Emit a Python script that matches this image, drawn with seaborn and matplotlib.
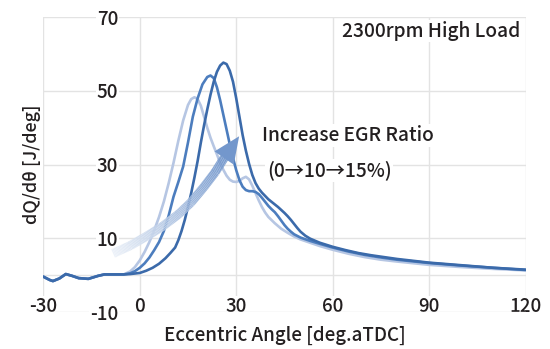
import numpy as np
import pandas as pd
import matplotlib
matplotlib.use('Agg')
import matplotlib.pyplot as plt
import seaborn as sns
from matplotlib.collections import LineCollection
from matplotlib.colors import to_rgba
from matplotlib.patches import FancyArrowPatch

# ---- data ----
# 点火前的共同部分
angle_pre = [-30, -28, -27, -25, -23, -21, -19, -16, -13, -11, -8]
dq_pre = [-0.4, -1.3, -1.6, -0.9, 0.3, -0.2, -0.8, -1.0, -0.2, 0.2, 0.2]

# EGR 0%
angle_egr0 = [-5, -3, -1.5, 0, 1.5, 3, 4.5, 6, 7.5, 9, 10.5, 12, 13.5, 15, 16, 17,
              18, 19, 20, 21, 22, 23, 24, 25, 26, 27, 28, 29, 30, 31, 32, 33, 34,
              35, 36, 37, 38, 39, 40, 42, 44, 46, 48, 50, 53, 56, 60, 65, 70, 75,
              80, 90, 100, 110, 120]
dq_egr0 = [0.2, 1.0, 2.2, 4.0, 6.3, 9.0, 12.2, 15.8, 20.0, 25.0, 30.5, 36.5, 42.0,
           46.2, 47.8, 48.3, 47.8, 46.0, 43.0, 40.0, 37.3, 35.0, 32.8, 30.5, 28.6,
           27.0, 25.9, 25.4, 25.3, 25.6, 26.3, 26.7, 26.0, 24.3, 22.3, 20.3, 18.5,
           17.0, 15.8, 14.1, 12.6, 11.5, 10.5, 9.7, 8.8, 7.9, 6.9, 5.8, 4.9, 4.2,
           3.7, 2.8, 2.2, 1.7, 1.3]

# EGR 10%
angle_egr10 = [-5, -3, -1.5, 0, 1.5, 3, 4.5, 6, 7.5, 9, 10.5, 12, 13.5, 15, 16.5,
               18, 19.5, 21, 22, 23, 24, 25, 26, 27, 28, 29, 30, 31, 32, 33, 34,
               35, 36, 37, 38, 39, 40, 41, 42, 43, 44, 45, 46, 47, 48, 50, 53, 56,
               60, 65, 70, 75, 80, 90, 100, 110, 120]
dq_egr10 = [0.2, 0.5, 1.1, 2.0, 3.2, 4.8, 6.8, 9.0, 12.0, 16.2, 21.3, 25.3, 29.5,
            36.0, 43.0, 48.0, 51.8, 53.8, 54.2, 53.5, 51.0, 47.5, 43.5, 39.5, 35.5,
            31.8, 28.5, 25.8, 24.0, 23.1, 22.8, 22.8, 22.6, 22.0, 21.0, 19.9, 18.8,
            17.9, 17.1, 16.0, 14.8, 13.6, 12.6, 11.8, 11.1, 10.2, 9.3, 8.5, 7.5,
            6.4, 5.5, 4.8, 4.2, 3.3, 2.6, 2.0, 1.4]

# EGR 15%
angle_egr15 = [-5, -3, 0, 2, 4, 6, 8, 9.5, 11, 12, 13, 14, 15, 16, 17, 18, 19, 20,
               21, 22, 23, 24, 25, 26, 27, 28, 29, 30, 31, 32, 33, 34, 35, 36, 37,
               38, 39, 40, 41, 42, 43, 44, 45, 46, 47, 48, 49, 50, 51.5, 53, 56, 60,
               64, 68, 72, 80, 90, 100, 110, 120]
dq_egr15 = [0.2, 0.3, 0.6, 1.2, 2.0, 3.1, 4.6, 6.0, 7.5, 9.5, 12.0, 15.0, 18.5,
            22.3, 26.5, 31.0, 36.0, 40.7, 45.0, 49.0, 52.5, 55.2, 56.9, 57.7, 57.3,
            55.5, 52.5, 48.0, 43.0, 38.0, 33.8, 30.2, 27.2, 25.0, 23.5, 22.4, 21.5,
            20.6, 19.9, 19.2, 18.5, 17.7, 16.9, 16.0, 15.0, 13.9, 12.8, 11.8, 10.7,
            9.9, 8.8, 7.7, 6.8, 6.0, 5.4, 4.4, 3.4, 2.7, 2.0, 1.5]

egr_labels = ['0%', '10%', '15%']
line_colors = ['#b6c6e3', '#4c7dbe', '#3b6aaa']

# 箭头路径 (注释用)
arrow_path_x = [-8.3, -3, 2, 7, 12, 16, 20, 23.5, 26.3]
arrow_path_y = [5.9, 8.0, 10.5, 13.2, 16.5, 19.8, 24.0, 28.0, 31.9]
arrow_tip = (30.9, 37.7)

x_ticks = [-30, 0, 30, 60, 90, 120]
y_ticks = [-10, 10, 30, 50, 70]

# ---- long-form table ----
frames = []
for lab, ax_, dq_ in zip(egr_labels,
                         [angle_egr0, angle_egr10, angle_egr15],
                         [dq_egr0, dq_egr10, dq_egr15]):
    frames.append(pd.DataFrame({'angle': angle_pre + ax_,
                                'dq': dq_pre + dq_,
                                'egr': lab}))
df = pd.concat(frames, ignore_index=True)

sns.set_theme(style='white')
plt.rcParams['font.family'] = ['Noto Sans CJK JP', 'DejaVu Sans']
plt.rcParams['font.weight'] = 'medium'
plt.rcParams['axes.labelweight'] = 'medium'
plt.rcParams['axes.unicode_minus'] = False
text_color = '#231f20'
grid_color = '#e3e3e3'

fig = plt.figure(figsize=(5.5, 3.49), dpi=100)
ax = fig.add_axes([0.0787, 0.106, 0.877, 0.8444])

sns.lineplot(data=df, x='angle', y='dq', hue='egr', hue_order=egr_labels,
             palette=line_colors, sort=False, estimator=None, linewidth=1.9,
             legend=False, ax=ax, zorder=3)

ax.set_xlim(-30, 120)
ax.set_ylim(-10, 70)
ax.set_xticks(x_ticks)
ax.set_yticks(y_ticks)
ax.grid(True, color=grid_color, linewidth=1.0)
ax.axhline(0, color=grid_color, linewidth=1.0, zorder=1)
for sp in ax.spines.values():
    sp.set_visible(False)

ax.tick_params(axis='y', length=0, pad=-54, labelsize=13.5, labelcolor=text_color)
ax.tick_params(axis='x', length=0, pad=-11, labelsize=13.5, labelcolor=text_color)
for lab in ax.get_xticklabels() + ax.get_yticklabels():
    lab.set_bbox(dict(facecolor='white', edgecolor='none', pad=0.8))

ax.set_xlabel('Eccentric Angle [deg.aTDC]', fontsize=13.5, color=text_color, labelpad=7)
ax.set_ylabel('dQ/dθ [J/deg]', fontsize=13, color=text_color, labelpad=2)

# 渐变箭头
px = np.array(arrow_path_x)
py = np.array(arrow_path_y)
t = np.linspace(0, 1, len(px))
tt = np.linspace(0, 1, 120)
sx = np.interp(tt, t, px)
sy = np.interp(tt, t, py)
pts = np.column_stack([sx, sy]).reshape(-1, 1, 2)
segs = np.concatenate([pts[:-1], pts[1:]], axis=1)
c0 = np.array(to_rgba('#edf2f9'))
c1 = np.array(to_rgba('#7397cc'))
cols = [c0 + (c1 - c0) * f for f in np.linspace(0, 1, len(segs))]
lc = LineCollection(segs, colors=cols, linewidths=6.5, capstyle='butt', zorder=6)
ax.add_collection(lc)
head = FancyArrowPatch((arrow_path_x[-1] - 0.3, arrow_path_y[-1] - 0.4), arrow_tip,
                       arrowstyle='-|>,head_length=0.95,head_width=0.42',
                       mutation_scale=20, color='#7397cc', linewidth=0,
                       shrinkA=0, shrinkB=0, zorder=7)
ax.add_patch(head)

box = dict(facecolor='white', edgecolor='none', pad=1)
ax.text(38, 38, 'Increase EGR Ratio', fontsize=13.8, color=text_color,
        ha='left', va='center', zorder=8, bbox=box)
ax.text(39.5, 28.5, '(0→10→15%)', fontsize=13.8, color=text_color,
        ha='left', va='center', zorder=8, bbox=box)
ax.text(118.2, 66.3, '2300rpm High Load', fontsize=13.8, color=text_color,
        ha='right', va='center', zorder=8, bbox=box)

fig.savefig('out.png', dpi=100)
